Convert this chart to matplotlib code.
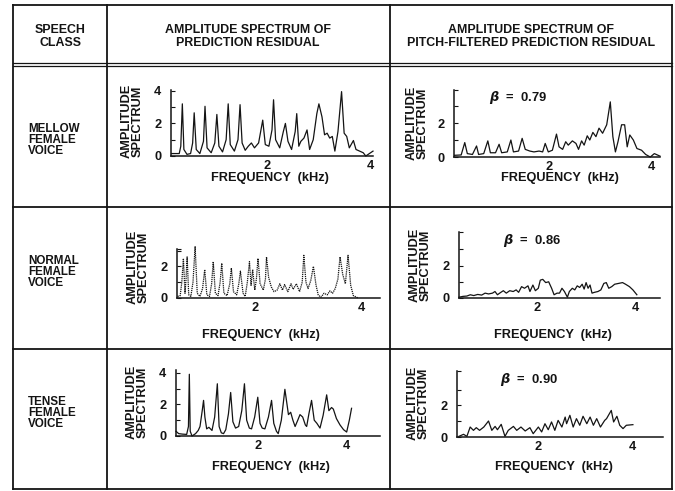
import matplotlib.pyplot as plt
from matplotlib.ticker import FixedLocator

plt.rcParams['font.family'] = ['Liberation Sans', 'DejaVu Sans']
plt.rcParams['font.weight'] = 'bold'
plt.rcParams['mathtext.fontset'] = 'dejavusans'

W, H = 675, 491

header_texts = ['SPEECH\nCLASS',
                'AMPLITUDE SPECTRUM OF\nPREDICTION RESIDUAL',
                'AMPLITUDE SPECTRUM OF\nPITCH-FILTERED PREDICTION RESIDUAL']
row_labels = ['MELLOW\nFEMALE\nVOICE', 'NORMAL\nFEMALE\nVOICE', 'TENSE\nFEMALE\nVOICE']
betas = [0.79, 0.86, 0.90]
xtick_vals = [2, 4]

# ---- mellow, prediction residual
f_mellow_res = [0.15, 0.30, 0.33, 0.36, 0.39, 0.45, 0.52, 0.56, 0.59, 0.63, 0.70, 0.77, 0.80, 0.84,
                0.92, 0.99, 1.03, 1.07, 1.14, 1.21, 1.25, 1.29, 1.37, 1.44, 1.48, 1.52, 1.58, 1.64,
                1.70, 1.76, 1.84, 1.92, 1.97, 2.04, 2.10, 2.13, 2.17, 2.25, 2.32, 2.36, 2.41, 2.48,
                2.55, 2.58, 2.62, 2.66, 2.72, 2.78, 2.83, 2.90, 2.97, 3.01, 3.07, 3.12, 3.17, 3.22,
                3.27, 3.32, 3.38, 3.45, 3.50, 3.55, 3.60, 3.68, 3.73, 3.80, 3.87, 3.92, 4.06]
a_mellow_res = [0.15, 0.15, 0.6, 3.2, 0.4, 0.1, 0.15, 0.8, 2.65, 0.4, 0.15, 0.9, 3.05, 0.5,
                0.2, 0.8, 2.55, 0.6, 0.25, 1.0, 3.2, 0.7, 0.3, 1.0, 3.15, 0.8, 0.35, 0.6,
                0.8, 0.5, 0.8, 2.2, 0.7, 0.6, 1.6, 3.45, 1.0, 0.5, 1.5, 2.0, 0.9, 0.4,
                1.5, 2.6, 0.6, 0.9, 1.1, 1.6, 0.4, 1.0, 2.6, 3.2, 2.4, 1.3, 1.4, 1.1,
                1.2, 0.3, 1.5, 3.95, 1.4, 1.2, 0.5, 0.95, 0.4, 0.3, 0.2, 0.0, 0.3]

# ---- mellow, pitch-filtered residual
f_mellow_pf = [0.15, 0.28, 0.35, 0.40, 0.50, 0.58, 0.62, 0.72, 0.80, 0.85, 0.95, 1.02, 1.07, 1.18,
               1.25, 1.30, 1.40, 1.47, 1.53, 1.62, 1.70, 1.80, 1.87, 1.92, 1.98, 2.06, 2.14, 2.19,
               2.26, 2.32, 2.37, 2.45, 2.52, 2.57, 2.63, 2.68, 2.74, 2.79, 2.85, 2.91, 2.97, 3.04,
               3.12, 3.19, 3.24, 3.29, 3.34, 3.41, 3.47, 3.52, 3.57, 3.64, 3.71, 3.80, 3.88, 3.97,
               4.05, 4.16]
a_mellow_pf = [0.1, 0.12, 0.85, 0.2, 0.15, 0.65, 0.15, 0.2, 0.95, 0.25, 0.25, 0.75, 0.25, 0.3,
               1.0, 0.3, 0.35, 1.1, 0.45, 0.35, 0.3, 0.35, 0.3, 0.8, 0.3, 0.4, 1.35, 0.6,
               0.45, 0.9, 0.7, 0.95, 0.8, 0.45, 0.95, 0.7, 1.25, 1.0, 1.45, 1.2, 1.7, 1.4,
               1.9, 3.25, 1.2, 0.3, 0.9, 1.9, 1.9, 0.6, 1.3, 1.0, 0.5, 0.4, 0.15, 0.0,
               0.2, 0.05]

# ---- normal, prediction residual
f_normal_res = [0.55, 0.60, 0.63, 0.66, 0.69, 0.71, 0.73, 0.76, 0.80, 0.84, 0.88, 0.92, 0.97, 1.02,
                1.06, 1.10, 1.15, 1.19, 1.22, 1.26, 1.31, 1.35, 1.38, 1.42, 1.48, 1.53, 1.56, 1.60,
                1.66, 1.70, 1.73, 1.78, 1.82, 1.86, 1.90, 1.93, 1.96, 2.00, 2.03, 2.06, 2.10, 2.16,
                2.20, 2.22, 2.26, 2.31, 2.36, 2.42, 2.47, 2.52, 2.56, 2.62, 2.68, 2.72, 2.78, 2.84,
                2.89, 2.92, 2.96, 3.00, 3.05, 3.10, 3.15, 3.19, 3.24, 3.30, 3.36, 3.41, 3.46, 3.51,
                3.56, 3.60, 3.65, 3.70, 3.75, 3.80, 3.85, 3.94]
a_normal_res = [0.1, 0.15, 1.0, 2.5, 0.3, 1.2, 2.6, 0.2, 0.1, 1.0, 3.25, 0.3, 0.1, 0.6,
                1.8, 0.2, 0.1, 0.9, 2.3, 0.3, 0.15, 1.0, 2.2, 0.3, 0.15, 0.9, 1.9, 0.4,
                0.2, 0.9, 1.7, 0.3, 0.1, 1.0, 2.3, 0.8, 1.8, 0.5, 1.2, 2.5, 0.9, 0.5,
                1.2, 2.6, 1.3, 0.7, 0.4, 0.5, 0.9, 0.5, 0.85, 0.4, 0.9, 0.55, 0.9, 0.4,
                1.0, 2.7, 1.0, 0.6, 1.1, 2.0, 0.8, 0.2, 0.05, 0.3, 0.2, 0.45, 0.3, 0.6,
                1.2, 2.6, 1.5, 0.9, 2.7, 0.8, 0.15, 0.0]

# ---- normal, pitch-filtered residual
f_normal_pf = [0.42, 0.50, 0.58, 0.65, 0.72, 0.80, 0.88, 0.95, 1.02, 1.10, 1.15, 1.20, 1.27, 1.32,
               1.38, 1.45, 1.52, 1.58, 1.63, 1.69, 1.75, 1.82, 1.86, 1.92, 1.97, 2.03, 2.07, 2.12,
               2.18, 2.24, 2.30, 2.35, 2.41, 2.46, 2.51, 2.56, 2.62, 2.66, 2.72, 2.77, 2.82, 2.87,
               2.92, 2.96, 3.00, 3.04, 3.08, 3.12, 3.17, 3.24, 3.30, 3.36, 3.41, 3.46, 3.52, 3.58,
               3.66, 3.74, 3.80, 3.88, 3.95, 4.03]
a_normal_pf = [0.05, 0.1, 0.12, 0.2, 0.15, 0.22, 0.18, 0.3, 0.25, 0.3, 0.4, 0.2, 0.35, 0.45,
               0.3, 0.45, 0.4, 0.5, 0.35, 0.7, 0.6, 0.75, 0.4, 0.8, 0.45, 0.6, 1.1, 1.15,
               0.95, 1.0, 0.6, 0.2, 0.3, 0.3, 0.6, 0.4, 0.05, 0.4, 0.6, 0.5, 0.75, 0.65,
               0.85, 0.55, 0.95, 0.6, 0.8, 0.3, 0.35, 0.4, 0.5, 0.9, 0.95, 0.6, 0.7, 0.85,
               0.9, 0.95, 0.85, 0.7, 0.5, 0.2]

# ---- tense, prediction residual
f_tense_res = [0.16, 0.22, 0.30, 0.40, 0.44, 0.46, 0.48, 0.52, 0.60, 0.66, 0.70, 0.75, 0.78, 0.81,
               0.85, 0.90, 0.97, 1.03, 1.09, 1.13, 1.18, 1.23, 1.28, 1.34, 1.39, 1.44, 1.50, 1.57,
               1.64, 1.70, 1.75, 1.81, 1.86, 1.93, 2.00, 2.05, 2.10, 2.16, 2.24, 2.31, 2.36, 2.42,
               2.46, 2.53, 2.61, 2.69, 2.74, 2.79, 2.84, 2.90, 2.95, 3.01, 3.07, 3.10, 3.15, 3.21,
               3.27, 3.33, 3.40, 3.47, 3.55, 3.60, 3.66, 3.70, 3.77, 3.85, 3.93, 4.00, 4.06, 4.11]
a_tense_res = [0.3, 0.15, 0.12, 0.1, 0.6, 3.9, 0.3, 0.0, 0.15, 0.35, 0.6, 1.6, 2.25, 1.2,
               0.45, 0.55, 0.35, 1.2, 3.3, 0.6, 0.2, 0.15, 0.4, 1.4, 2.75, 0.9, 0.5, 0.6,
               1.6, 3.3, 1.0, 0.5, 0.45, 1.2, 2.45, 0.8, 0.5, 0.45, 1.2, 2.25, 0.8, 0.3,
               0.15, 1.0, 2.95, 1.35, 1.5, 1.0, 0.6, 1.0, 1.35, 1.2, 0.7, 0.6, 1.4, 2.25,
               1.0, 0.8, 0.5, 1.3, 2.6, 1.6, 1.8, 1.7, 1.1, 0.7, 0.4, 0.25, 1.0, 1.75]

# ---- tense, pitch-filtered residual
f_tense_pf = [0.31, 0.41, 0.48, 0.55, 0.62, 0.68, 0.75, 0.84, 0.94, 1.01, 1.08, 1.13, 1.21, 1.29,
              1.36, 1.47, 1.54, 1.63, 1.72, 1.82, 1.89, 2.00, 2.07, 2.14, 2.21, 2.28, 2.35, 2.42,
              2.50, 2.57, 2.60, 2.67, 2.74, 2.81, 2.88, 2.95, 3.03, 3.10, 3.17, 3.24, 3.32, 3.41,
              3.45, 3.55, 3.60, 3.67, 3.73, 3.80, 3.87, 4.01]
a_tense_pf = [0.04, 0.17, 0.04, 0.63, 0.42, 0.59, 0.42, 0.63, 1.01, 0.42, 0.67, 0.46, 0.8, 0.04,
              0.42, 0.67, 0.42, 0.63, 0.38, 0.59, 0.21, 0.63, 0.32, 0.84, 0.46, 0.95, 0.42, 1.05,
              0.63, 1.26, 0.84, 1.37, 0.63, 1.16, 0.74, 1.31, 0.84, 1.26, 0.74, 1.16, 0.63, 1.05,
              1.16, 1.68, 0.95, 1.31, 0.74, 0.53, 0.74, 0.78]

series = [(f_mellow_res, a_mellow_res), (f_mellow_pf, a_mellow_pf),
          (f_normal_res, a_normal_res), (f_normal_pf, a_normal_pf),
          (f_tense_res, a_tense_res), (f_tense_pf, a_tense_pf)]

# panel layout in pixels: left, top, right, bottom; then xlim, ytop
layout = [
    dict(box=(171, 90, 373, 156), xlim=(0.14, 4.06), ytop=4.05, ylab=(132, 121), flab=(270, 178)),
    dict(box=(454, 90, 660, 157), xlim=(0.14, 4.16), ytop=3.95, ylab=(417, 123), flab=(560, 178)),
    dict(box=(177, 249, 380, 298), xlim=(0.54, 4.35), ytop=3.1, ylab=(138, 267), flab=(261, 335)),
    dict(box=(459, 232, 660, 298), xlim=(0.42, 4.50), ytop=4.07, ylab=(420, 265), flab=(553, 335)),
    dict(box=(176, 370, 380, 436), xlim=(0.16, 4.75), ytop=4.17, ylab=(137, 402), flab=(271, 467)),
    dict(box=(457, 371, 663, 437), xlim=(0.27, 4.65), ytop=4.17, ylab=(418, 403), flab=(554, 467)),
]
beta_pos = [(518, 97), (532, 240), (529, 380)]

fig = plt.figure(figsize=(W / 100, H / 100), dpi=100, facecolor='white')

# background axes in pixel coordinates for the table frame and texts
bg = fig.add_axes([0, 0, 1, 1])
bg.set_xlim(0, W)
bg.set_ylim(H, 0)
bg.axis('off')

ink = '#141414'
lw_frame = 1.3
for y in [5, 207, 349, 489]:
    bg.plot([13, 672], [y, y], color=ink, lw=lw_frame)
for y in [62.5, 65.5]:
    bg.plot([13, 672], [y, y], color=ink, lw=0.9)
for x in [13, 107, 390, 672]:
    bg.plot([x, x], [5, 489], color=ink, lw=lw_frame)

fs_head = 8.9
fs_row = 8.4
fs_lab = 9.2
hx = [60, 248, 531]
for x, t in zip(hx, header_texts):
    bg.text(x, 36.5, t, ha='center', va='center', fontsize=fs_head, fontweight='bold',
            color=ink, linespacing=1.2)

for y, t in zip([140, 272, 413], row_labels):
    bg.text(28, y, t, ha='left', va='center', fontsize=fs_row, fontweight='bold',
            color=ink, linespacing=0.88)

for k, ((f, a), lay) in enumerate(zip(series, layout)):
    x0, y0, x1, y1 = lay['box']
    ax = fig.add_axes([x0 / W, 1 - y1 / H, (x1 - x0) / W, (y1 - y0) / H])
    ax.patch.set_alpha(0)
    ls = (0, (1, 0.7)) if k == 2 else '-'
    ax.plot(f, a, color=ink, lw=0.9, ls=ls, clip_on=False)
    ax.set_xlim(*lay['xlim'])
    ax.set_ylim(0, lay['ytop'])
    for s in ['top', 'right']:
        ax.spines[s].set_visible(False)
    for s in ['left', 'bottom']:
        ax.spines[s].set_color(ink)
        ax.spines[s].set_linewidth(1.1)
    left_col = k % 2 == 0
    if left_col and lay['ytop'] >= 4:
        major = [0, 2, 4]
        minor = [1, 3]
    else:
        major = [0, 2]
        minor = [1, 3, lay['ytop']]
    ax.yaxis.set_major_locator(FixedLocator(major))
    ax.yaxis.set_minor_locator(FixedLocator(minor))
    ax.set_yticklabels([str(v) for v in major])
    ax.tick_params(axis='y', which='both', direction='in', length=3, width=0.8,
                   colors=ink, labelsize=fs_lab, pad=7)
    ax.set_xticks(xtick_vals)
    ax.set_xticklabels([str(v) for v in xtick_vals])
    ax.tick_params(axis='x', length=0, colors=ink, labelsize=fs_lab, pad=3)
    for lab in ax.get_xticklabels() + ax.get_yticklabels():
        lab.set_fontweight('bold')

    lx, ly = lay['ylab']
    bg.text(lx, ly, 'AMPLITUDE\nSPECTRUM', rotation=90, ha='center', va='center',
            fontsize=fs_lab, fontweight='bold', color=ink, linespacing=0.85)
    fx, fy = lay['flab']
    bg.text(fx, fy, 'FREQUENCY  (kHz)', ha='center', va='center',
            fontsize=fs_lab, fontweight='bold', color=ink)

for (bx, by), b in zip(beta_pos, betas):
    bg.text(bx, by, r'$\beta$' + f'  =  {b:.2f}', ha='center', va='center',
            fontsize=9.4, fontweight='bold', color=ink)

fig.savefig('out.png', dpi=100, facecolor='white')
